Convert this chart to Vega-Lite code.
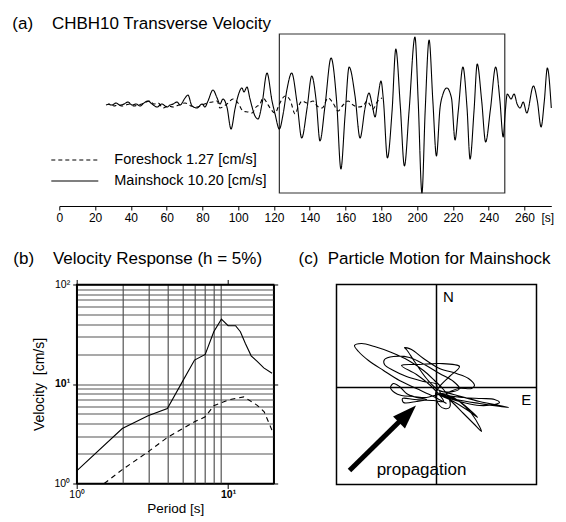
{
  "$schema": "https://vega.github.io/schema/vega-lite/v6.json",
  "padding": {"left": 12.3, "top": 14, "right": 0, "bottom": 0},
  "config": {
    "font": "Liberation Sans",
    "title": {"fontSize": 17, "fontWeight": "normal", "anchor": "start", "color": "black", "frame": "group", "baseline": "alphabetic"},
    "axis": {"labelColor": "black", "titleColor": "black", "tickColor": "black", "domainColor": "black", "titleFontWeight": "normal"}
  },
  "datasets": {
    "box": [{"t0": 123, "t1": 249, "a0": -89, "a1": 70}],
    "wave": [
      {"s":"M","t":27.2,"a":0},{"s":"M","t":29.5,"a":-1},{"s":"M","t":31.7,"a":1},{"s":"M","t":33.9,"a":-1},{"s":"M","t":36.2,"a":0},{"s":"M","t":38.4,"a":2},{"s":"M","t":40.6,"a":-1},{"s":"M","t":42.9,"a":0},{"s":"M","t":45.1,"a":-2},{"s":"M","t":47.3,"a":1},{"s":"M","t":49.6,"a":3},{"s":"M","t":51.8,"a":0},{"s":"M","t":54.6,"a":-3},{"s":"M","t":57.4,"a":0},{"s":"M","t":60.2,"a":-3},{"s":"M","t":61.9,"a":-1},{"s":"M","t":63.6,"a":0},{"s":"M","t":65.8,"a":2},{"s":"M","t":67.5,"a":-1},{"s":"M","t":70.3,"a":6},{"s":"M","t":71.9,"a":9},{"s":"M","t":74.2,"a":-2},{"s":"M","t":77.0,"a":-4},{"s":"M","t":79.8,"a":0},{"s":"M","t":81.4,"a":-3},{"s":"M","t":83.1,"a":3},{"s":"M","t":85.9,"a":14},{"s":"M","t":88.2,"a":6},{"s":"M","t":89.8,"a":0},{"s":"M","t":91.5,"a":5},{"s":"M","t":93.7,"a":-3},{"s":"M","t":96.0,"a":-25},{"s":"M","t":98.2,"a":-5},{"s":"M","t":99.9,"a":8},{"s":"M","t":102.1,"a":16},{"s":"M","t":103.2,"a":12},{"s":"M","t":104.9,"a":17},{"s":"M","t":106.6,"a":5},{"s":"M","t":109.4,"a":-12},{"s":"M","t":111.1,"a":-15},{"s":"M","t":113.3,"a":0},{"s":"M","t":116.1,"a":31},{"s":"M","t":118.9,"a":3},{"s":"M","t":120.6,"a":-10},{"s":"M","t":123.0,"a":-25},{"s":"M","t":125.1,"a":-10},{"s":"M","t":127.3,"a":15},{"s":"M","t":129.9,"a":31},{"s":"M","t":132.9,"a":1},{"s":"M","t":135.5,"a":-34},{"s":"M","t":138.5,"a":-4},{"s":"M","t":141.1,"a":28},{"s":"M","t":143.6,"a":3},{"s":"M","t":145.7,"a":-37},{"s":"M","t":148.5,"a":-2},{"s":"M","t":151.9,"a":46},{"s":"M","t":155.0,"a":3},{"s":"M","t":157.4,"a":-65},{"s":"M","t":159.7,"a":-12},{"s":"M","t":162.0,"a":37},{"s":"M","t":165.3,"a":8},{"s":"M","t":168.1,"a":-34},{"s":"M","t":170.9,"a":-4},{"s":"M","t":173.1,"a":11},{"s":"M","t":174.8,"a":0},{"s":"M","t":176.5,"a":-13},{"s":"M","t":178.2,"a":8},{"s":"M","t":179.8,"a":23},{"s":"M","t":181.2,"a":3},{"s":"M","t":183.4,"a":-54},{"s":"M","t":186.0,"a":-7},{"s":"M","t":188.1,"a":55},{"s":"M","t":190.6,"a":-2},{"s":"M","t":192.9,"a":-62},{"s":"M","t":195.5,"a":-7},{"s":"M","t":198.8,"a":67},{"s":"M","t":200.6,"a":3},{"s":"M","t":202.7,"a":-89},{"s":"M","t":204.5,"a":-7},{"s":"M","t":206.7,"a":64},{"s":"M","t":208.8,"a":3},{"s":"M","t":210.8,"a":-52},{"s":"M","t":212.8,"a":-4},{"s":"M","t":214.3,"a":9},{"s":"M","t":216.6,"a":16},{"s":"M","t":219.2,"a":6},{"s":"M","t":221.2,"a":-36},{"s":"M","t":223.0,"a":-7},{"s":"M","t":225.6,"a":37},{"s":"M","t":227.9,"a":-4},{"s":"M","t":229.6,"a":-55},{"s":"M","t":231.8,"a":-7},{"s":"M","t":233.6,"a":40},{"s":"M","t":236.1,"a":3},{"s":"M","t":238.3,"a":-38},{"s":"M","t":241.0,"a":-5},{"s":"M","t":243.9,"a":37},{"s":"M","t":246.3,"a":3},{"s":"M","t":248.1,"a":-33},{"s":"M","t":249.3,"a":-7},{"s":"M","t":250.4,"a":10},{"s":"M","t":252.5,"a":5},{"s":"M","t":254.2,"a":10},{"s":"M","t":255.9,"a":0},{"s":"M","t":257.6,"a":-4},{"s":"M","t":259.3,"a":2},{"s":"M","t":261.3,"a":-9},{"s":"M","t":265.0,"a":18},{"s":"M","t":267.2,"a":3},{"s":"M","t":269.3,"a":-23},{"s":"M","t":271.1,"a":3},{"s":"M","t":272.8,"a":36},{"s":"M","t":275.0,"a":-4},
      {"s":"F","t":26.1,"a":-1},{"s":"F","t":28.3,"a":0},{"s":"F","t":30.6,"a":-2},{"s":"F","t":32.8,"a":-1},{"s":"F","t":35.1,"a":-2},{"s":"F","t":37.3,"a":-1},{"s":"F","t":39.5,"a":0},{"s":"F","t":41.8,"a":-2},{"s":"F","t":44.0,"a":-1},{"s":"F","t":46.2,"a":0},{"s":"F","t":48.5,"a":2},{"s":"F","t":50.7,"a":3},{"s":"F","t":52.9,"a":0},{"s":"F","t":55.2,"a":1},{"s":"F","t":58.0,"a":-4},{"s":"F","t":60.8,"a":-2},{"s":"F","t":63.6,"a":-3},{"s":"F","t":66.9,"a":-1},{"s":"F","t":70.3,"a":1},{"s":"F","t":73.6,"a":-2},{"s":"F","t":77.0,"a":-3},{"s":"F","t":79.8,"a":-1},{"s":"F","t":82.6,"a":1},{"s":"F","t":85.4,"a":2},{"s":"F","t":88.2,"a":3},{"s":"F","t":89.8,"a":-4},{"s":"F","t":92.1,"a":-2},{"s":"F","t":93.7,"a":0},{"s":"F","t":97.1,"a":5},{"s":"F","t":99.9,"a":1},{"s":"F","t":102.7,"a":-7},{"s":"F","t":105.5,"a":-8},{"s":"F","t":107.7,"a":-9},{"s":"F","t":110.0,"a":-3},{"s":"F","t":112.2,"a":0},{"s":"F","t":113.9,"a":6},{"s":"F","t":116.1,"a":1},{"s":"F","t":117.8,"a":-4},{"s":"F","t":120.6,"a":-9},{"s":"F","t":122.8,"a":-1},{"s":"F","t":124.5,"a":5},{"s":"F","t":126.2,"a":8},{"s":"F","t":129.0,"a":4},{"s":"F","t":131.8,"a":-10},{"s":"F","t":133.5,"a":-3},{"s":"F","t":135.7,"a":3},{"s":"F","t":138.5,"a":1},{"s":"F","t":141.9,"a":3},{"s":"F","t":144.1,"a":-2},{"s":"F","t":146.9,"a":-4},{"s":"F","t":150.2,"a":6},{"s":"F","t":153.0,"a":1},{"s":"F","t":155.8,"a":-7},{"s":"F","t":158.6,"a":-1},{"s":"F","t":161.4,"a":3},{"s":"F","t":164.2,"a":-1},{"s":"F","t":167.0,"a":-3},{"s":"F","t":169.8,"a":-2},{"s":"F","t":172.0,"a":3},{"s":"F","t":173.7,"a":-1},{"s":"F","t":175.4,"a":-5},{"s":"F","t":177.6,"a":2},{"s":"F","t":180.4,"a":6}
    ],
    "resp": [
      {"s":"M","p":1,"v":1.34},{"s":"M","p":2,"v":3.57},{"s":"M","p":2.96,"v":4.79},{"s":"M","p":3.97,"v":5.67},{"s":"M","p":4.98,"v":10.5},{"s":"M","p":6.0,"v":17.4},{"s":"M","p":7.06,"v":19.8},{"s":"M","p":8.04,"v":33.5},{"s":"M","p":9.03,"v":44.9},{"s":"M","p":10,"v":38.5},{"s":"M","p":11.2,"v":38.5},{"s":"M","p":12.05,"v":33.5},{"s":"M","p":13.0,"v":25.5},{"s":"M","p":14.2,"v":19.2},{"s":"M","p":15.5,"v":17.0},{"s":"M","p":17.2,"v":14.5},{"s":"M","p":19.5,"v":12.8},
      {"s":"F","p":1.52,"v":1},{"s":"F","p":2,"v":1.38},{"s":"F","p":2.96,"v":2.08},{"s":"F","p":3.97,"v":2.9},{"s":"F","p":6.0,"v":4.17},{"s":"F","p":7.06,"v":4.68},{"s":"F","p":8.04,"v":6.04},{"s":"F","p":10,"v":6.9},{"s":"F","p":12.7,"v":7.43},{"s":"F","p":15.5,"v":6.14},{"s":"F","p":17.3,"v":5.26},{"s":"F","p":19.9,"v":3.18}
    ],
    "pm": [
      {"i":1,"e":0.10,"n":-0.16},{"i":2,"e":-0.03,"n":-0.09},{"i":3,"e":-0.2,"n":-0.01},{"i":4,"e":-0.37,"n":0.07},{"i":5,"e":-0.53,"n":0.17},{"i":6,"e":-0.68,"n":0.27},{"i":7,"e":-0.78,"n":0.36},{"i":8,"e":-0.82,"n":0.42},{"i":9,"e":-0.75,"n":0.44},{"i":10,"e":-0.62,"n":0.41},{"i":11,"e":-0.45,"n":0.35},{"i":12,"e":-0.28,"n":0.27},{"i":13,"e":-0.13,"n":0.17},{"i":14,"e":-0.02,"n":0.07},{"i":15,"e":0.07,"n":-0.02},{"i":16,"e":0.13,"n":-0.12},{"i":17,"e":0.13,"n":-0.2},{"i":18,"e":0.08,"n":-0.21},{"i":19,"e":0.03,"n":-0.18},{"i":20,"e":-0.01,"n":-0.08},{"i":21,"e":0.0,"n":0.03},
      {"i":22,"e":-0.13,"n":0.06},{"i":23,"e":-0.3,"n":0.11},{"i":24,"e":-0.43,"n":0.17},{"i":25,"e":-0.52,"n":0.23},{"i":26,"e":-0.52,"n":0.28},{"i":27,"e":-0.43,"n":0.31},{"i":28,"e":-0.27,"n":0.3},{"i":29,"e":-0.12,"n":0.23},{"i":30,"e":0.03,"n":0.14},{"i":31,"e":0.17,"n":0.06},{"i":32,"e":0.23,"n":-0.01},{"i":33,"e":0.17,"n":-0.04},{"i":34,"e":0.03,"n":-0.03},
      {"i":35,"e":-0.1,"n":0.09},{"i":36,"e":-0.22,"n":0.26},{"i":37,"e":-0.3,"n":0.38},{"i":38,"e":-0.32,"n":0.4},{"i":39,"e":-0.25,"n":0.38},{"i":40,"e":-0.13,"n":0.29},{"i":41,"e":0.03,"n":0.19},{"i":42,"e":0.2,"n":0.14},{"i":43,"e":0.32,"n":0.09},{"i":44,"e":0.38,"n":0.02},{"i":45,"e":0.35,"n":-0.01},{"i":46,"e":0.22,"n":-0.01},{"i":47,"e":0.1,"n":-0.07},
      {"i":48,"e":0.27,"n":-0.1},{"i":49,"e":0.45,"n":-0.11},{"i":50,"e":0.58,"n":-0.12},{"i":51,"e":0.63,"n":-0.15},{"i":52,"e":0.58,"n":-0.17},{"i":53,"e":0.43,"n":-0.18},{"i":54,"e":0.27,"n":-0.15},{"i":55,"e":0.13,"n":-0.11},{"i":56,"e":0.03,"n":-0.07},{"i":57,"e":0.2,"n":-0.12},{"i":58,"e":0.43,"n":-0.16},{"i":59,"e":0.72,"n":-0.2},{"i":60,"e":0.43,"n":-0.14},{"i":61,"e":0.17,"n":-0.07},{"i":62,"e":0.03,"n":-0.04},
      {"i":63,"e":0.15,"n":-0.14},{"i":64,"e":0.27,"n":-0.26},{"i":65,"e":0.37,"n":-0.36},{"i":66,"e":0.45,"n":-0.44},{"i":67,"e":0.43,"n":-0.39},{"i":68,"e":0.35,"n":-0.26},{"i":69,"e":0.23,"n":-0.14},{"i":70,"e":0.1,"n":-0.07},{"i":71,"e":0.0,"n":-0.06},{"i":72,"e":0.17,"n":-0.14},{"i":73,"e":0.3,"n":-0.22},{"i":74,"e":0.41,"n":-0.3},{"i":75,"e":0.35,"n":-0.24},{"i":76,"e":0.2,"n":-0.12},{"i":77,"e":0.03,"n":-0.07},
      {"i":78,"e":-0.1,"n":-0.1},{"i":79,"e":-0.23,"n":-0.09},{"i":80,"e":-0.35,"n":-0.08},{"i":81,"e":-0.42,"n":-0.05},{"i":82,"e":-0.46,"n":0.0},{"i":83,"e":-0.43,"n":0.04},{"i":84,"e":-0.37,"n":0.01},{"i":85,"e":-0.3,"n":-0.06},{"i":86,"e":-0.2,"n":-0.1},{"i":87,"e":-0.1,"n":-0.12},{"i":88,"e":-0.2,"n":-0.14},{"i":89,"e":-0.33,"n":-0.15},{"i":90,"e":-0.34,"n":-0.11},{"i":91,"e":-0.22,"n":-0.12},{"i":92,"e":-0.03,"n":-0.13},{"i":93,"e":0.07,"n":-0.14},
      {"i":94,"e":-0.03,"n":-0.01},{"i":95,"e":-0.2,"n":0.13},{"i":96,"e":-0.35,"n":0.22},{"i":97,"e":-0.17,"n":0.23},{"i":98,"e":0.03,"n":0.24},{"i":99,"e":0.23,"n":0.21},{"i":100,"e":0.13,"n":0.11},{"i":101,"e":0.03,"n":0.01},{"i":102,"e":0.0,"n":-0.04}
    ],
    "cross": [{"v": 0}],
    "arrow": [{"x0": -0.87, "y0": -0.83, "x1": -0.34, "y1": -0.31}],
    "head": [{"x": -0.29, "y": -0.265}],
    "nelab": [{"x": 0.12, "y": 0.85, "t": "N"}, {"x": 0.897, "y": -0.18, "t": "E"}],
    "proplab": [{"x": -0.15, "y": -0.88, "t": "propagation"}]
  },
  "spacing": 25.5,
  "vconcat": [
    {
      "width": 492,
      "height": 172,
      "view": {"stroke": null},
      "title": {"text": "(a)\u00a0\u00a0\u00a0\u00a0CHBH10 Transverse Velocity", "dx": -47, "offset": 0.5},
      "layer": [
        {
          "data": {"name": "box"},
          "mark": {"type": "rect", "filled": false, "stroke": "#333333", "strokeWidth": 1.2},
          "encoding": {
            "x": {"field": "t0", "type": "quantitative", "scale": {"domain": [0, 275], "nice": false, "zero": false},
              "axis": {"values": [0,20,40,60,80,100,120,140,160,180,200,220,240,260], "grid": false, "tickSize": 4, "labelFontSize": 12, "labelPadding": 2, "labelFlush": false, "labelOverlap": false, "domainWidth": 1, "format": "d",
                "title": "[s]", "titleX": 488, "titleY": 6, "titleAlign": "center", "titleBaseline": "top", "titleFontSize": 12, "titleAngle": 0}},
            "x2": {"field": "t1"},
            "y": {"field": "a0", "type": "quantitative", "scale": {"domain": [-102, 70], "nice": false, "zero": false}, "axis": null},
            "y2": {"field": "a1"}
          }
        },
        {
          "data": {"name": "wave"},
          "mark": {"type": "line", "interpolate": "monotone", "color": "black", "strokeWidth": 1.1},
          "encoding": {
            "x": {"field": "t", "type": "quantitative",
              "axis": {"values": [0,20,40,60,80,100,120,140,160,180,200,220,240,260], "grid": false, "tickSize": 4, "labelFontSize": 12, "labelPadding": 2, "labelFlush": false, "labelOverlap": false, "domainWidth": 1, "format": "d",
                "title": "[s]", "titleX": 488, "titleY": 6, "titleAlign": "center", "titleBaseline": "top", "titleFontSize": 12, "titleAngle": 0}},
            "y": {"field": "a", "type": "quantitative", "axis": null},
            "strokeDash": {"field": "s", "type": "nominal",
              "scale": {"domain": ["F", "M"], "range": [[4, 3], [1, 0]]},
              "legend": {"orient": "none", "legendX": -9, "legendY": 115.5, "title": null, "padding": 0,
                "symbolType": "stroke", "symbolSize": 2209, "clipHeight": 21, "symbolStrokeWidth": 1.2, "symbolStrokeColor": "black",
                "labelFontSize": 14.5, "labelOffset": 15, "labelColor": "black", "rowPadding": 0,
                "labelExpr": "datum.value == 'F' ? 'Foreshock 1.27 [cm/s]' : 'Mainshock 10.20 [cm/s]'"}}
          }
        }
      ]
    },
    {
      "spacing": 18.2,
      "hconcat": [
        {
          "spacing": -48.6,
          "hconcat": [
            {
              "width": 1,
              "height": 1,
              "view": {"stroke": null},
              "data": {"name": "cross"},
              "mark": {"type": "point", "size": 0, "opacity": 0},
              "encoding": {}
            },
            {
              "width": 197,
              "height": 199,
              "view": {"stroke": "black", "strokeWidth": 1.5},
              "title": {"text": "(b)\u00a0\u00a0\u00a0\u00a0Velocity Response (h = 5%)", "dx": -63.4, "offset": 11},
              "data": {"name": "resp"},
              "resolve": {"axis": {"x": "independent", "y": "independent"}},
              "layer": [
                {
                  "transform": [{"filter": "datum.s == 'M'"}],
                  "mark": {"type": "line", "color": "black", "strokeWidth": 1.1},
                  "encoding": {
                    "x": {"field": "p", "type": "quantitative", "scale": {"type": "log", "domain": [1, 20], "nice": false},
                      "axis": {"orient": "bottom", "values": [1,2,3,4,5,6,7,8,9,10], "grid": true, "gridColor": "#555555", "gridWidth": 1.2,
                        "gridOpacity": {"condition": {"test": "datum.value == 1 || datum.value == 10", "value": 0}, "value": 1},
                        "tickSize": 5, "tickOpacity": {"condition": {"test": "datum.value == 1 || datum.value == 10", "value": 1}, "value": 0},
                        "labelExpr": "datum.value == 1 ? '10⁰' : datum.value == 10 ? '10¹' : ''",
                        "labelFontWeight": {"condition": {"test": "datum.value == 10", "value": "bold"}, "value": "normal"},
                        "labelFontSize": 10.5, "labelPadding": 1, "labelFlush": false, "labelOverlap": false,
                        "title": "Period [s]", "titleFontSize": 13.5, "titlePadding": 2, "domainWidth": 1.5}},
                    "y": {"field": "v", "type": "quantitative", "scale": {"type": "log", "domain": [1, 100], "nice": false},
                      "axis": {"orient": "left", "values": [1,2,3,4,5,6,7,8,9,10,20,30,40,50,60,70,80,90,100], "grid": true, "gridColor": "#555555", "gridWidth": 1.2,
                        "gridOpacity": {"condition": {"test": "datum.value == 1 || datum.value == 100", "value": 0}, "value": 1},
                        "tickSize": 4, "tickOpacity": {"condition": {"test": "datum.value == 1 || datum.value == 10 || datum.value == 100", "value": 1}, "value": 0},
                        "labelExpr": "datum.value == 1 ? '10⁰' : datum.value == 10 ? '10¹' : datum.value == 100 ? '10²' : ''",
                        "labelFontWeight": {"condition": {"test": "datum.value == 10", "value": "bold"}, "value": "normal"},
                        "labelFontSize": 10.5, "labelPadding": 3, "labelFlush": false, "labelOverlap": false,
                        "title": "Velocity\u00a0 [cm/s]", "titleFontSize": 14, "titlePadding": 8, "domainWidth": 1.5}}
                  }
                },
                {
                  "transform": [{"filter": "datum.s == 'F'"}],
                  "mark": {"type": "line", "color": "black", "strokeWidth": 1.1, "strokeDash": [5, 4]},
                  "encoding": {
                    "x": {"field": "p", "type": "quantitative", "scale": {"type": "log", "domain": [1, 20], "nice": false},
                      "axis": {"orient": "top", "values": [1, 10], "grid": false, "tickSize": 5, "labels": false, "title": null, "domainWidth": 1.5}},
                    "y": {"field": "v", "type": "quantitative", "scale": {"type": "log", "domain": [1, 100], "nice": false},
                      "axis": {"orient": "right", "values": [1, 10, 100], "grid": false, "tickSize": 4, "labels": false, "title": null, "domainWidth": 1.5}}
                  }
                }
              ]
            }
          ]
        },
        {
          "width": 200,
          "height": 200,
          "view": {"stroke": "black", "strokeWidth": 1.5},
          "title": {"text": "(c)\u00a0\u00a0Particle Motion for Mainshock", "dx": -38, "offset": 16},
          "layer": [
            {
              "data": {"name": "pm"},
              "mark": {"type": "line", "interpolate": "catmull-rom", "color": "black", "strokeWidth": 1.1},
              "encoding": {
                "x": {"field": "e", "type": "quantitative", "scale": {"domain": [-1, 1], "nice": false, "zero": false}, "axis": null},
                "y": {"field": "n", "type": "quantitative", "scale": {"domain": [-0.97, 1.03], "nice": false, "zero": false}, "axis": null},
                "order": {"field": "i", "type": "quantitative"}
              }
            },
            {
              "data": {"name": "cross"},
              "mark": {"type": "rule", "color": "black", "strokeWidth": 1.5},
              "encoding": {"x": {"field": "v", "type": "quantitative"}}
            },
            {
              "data": {"name": "cross"},
              "mark": {"type": "rule", "color": "black", "strokeWidth": 1.5},
              "encoding": {"y": {"field": "v", "type": "quantitative"}}
            },
            {
              "data": {"name": "arrow"},
              "mark": {"type": "rule", "color": "black", "strokeWidth": 5},
              "encoding": {
                "x": {"field": "x0", "type": "quantitative"},
                "y": {"field": "y0", "type": "quantitative"},
                "x2": {"field": "x1"},
                "y2": {"field": "y1"}
              }
            },
            {
              "data": {"name": "head"},
              "mark": {"type": "point", "shape": "M0,-1L0.7,1L-0.7,1Z", "filled": true, "color": "black", "opacity": 1, "size": 576, "angle": 45, "strokeWidth": 0},
              "encoding": {
                "x": {"field": "x", "type": "quantitative"},
                "y": {"field": "y", "type": "quantitative"}
              }
            },
            {
              "data": {"name": "nelab"},
              "mark": {"type": "text", "fontSize": 15, "color": "black", "align": "center", "baseline": "alphabetic"},
              "encoding": {
                "x": {"field": "x", "type": "quantitative"},
                "y": {"field": "y", "type": "quantitative"},
                "text": {"field": "t"}
              }
            },
            {
              "data": {"name": "proplab"},
              "mark": {"type": "text", "fontSize": 17, "color": "black", "align": "center", "baseline": "alphabetic"},
              "encoding": {
                "x": {"field": "x", "type": "quantitative"},
                "y": {"field": "y", "type": "quantitative"},
                "text": {"field": "t"}
              }
            }
          ]
        }
      ]
    }
  ]
}
